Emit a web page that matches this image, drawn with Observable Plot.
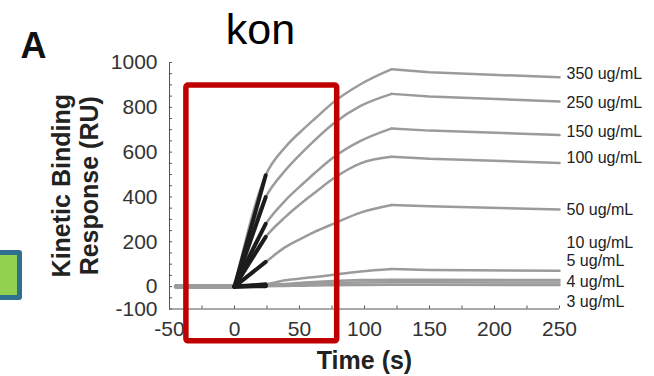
<!DOCTYPE html>
<html>
<head>
<meta charset="utf-8">
<script src="https://cdn.jsdelivr.net/npm/d3@7"></script>
<script src="https://cdn.jsdelivr.net/npm/@observablehq/plot@0.6"></script>
<style>
  html, body { margin: 0; padding: 0; background: #fff; overflow: hidden; }
  #wrap { position: relative; width: 654px; height: 376px; }
  #flag { position: absolute; left: -6px; top: 250px; width: 27.7px; height: 50px; box-sizing: border-box;
          border: 5px solid #2f6f8f; border-radius: 3px; background: #92d050; }
</style>
</head>
<body>
<div id="wrap"><div id="flag"></div></div>
<script>
// ---- data ----
const series = ["350 ug/mL","250 ug/mL","150 ug/mL","100 ug/mL","50 ug/mL","10 ug/mL","5 ug/mL","4 ug/mL","3 ug/mL"];

const baselineTime = [-45, 0];
const baselineValue = [0, 0];

const assocTime = [0, 24, 39, 54, 62, 76, 97, 121];
const assoc350 = [0, 497, 622, 708, 750, 822, 903, 970];
const assoc250 = [0, 399, 518, 610, 655, 727, 806, 860];
const assoc150 = [0, 280, 384, 466, 508, 576, 650, 706];
const assoc100 = [0, 222, 310, 384, 420, 482, 550, 579];
const assoc50  = [0, 110, 176, 222, 245, 280, 330, 364];
const assoc10  = [0, 10, 28, 38, 43, 53, 67, 78];
const assoc5   = [0, 6, 12, 18, 21, 25, 29, 31];
const assoc4   = [0, 4, 8, 12, 14, 16, 18, 19];
const assoc3   = [0, 2, 3, 4, 5, 6, 7, 8];

const dissocTime = [121, 150, 250];
const dissoc350 = [970, 956, 934];
const dissoc250 = [860, 848, 826];
const dissoc150 = [706, 696, 677];
const dissoc100 = [579, 570, 552];
const dissoc50  = [364, 358, 344];
const dissoc10  = [78, 74, 71];
const dissoc5   = [31, 30, 29];
const dissoc4   = [19, 19, 18];
const dissoc3   = [8, 8, 7];

const fitTime = [0, 24];
const fitEnd = [497, 399, 280, 222, 110, 10, 6, 4, 2];

const labelRU = [951, 822, 692, 576, 344, 197, 113, 23, -66];

const yTickLabels = [-100, 0, 200, 400, 600, 800, 1000];
const xTickLabels = [-50, 0, 50, 100, 150, 200, 250];
const highlight = [{x1: -37, x2: 79, y1: -244, y2: 897}];

// ---- build tables ----
const assocAll = [assoc350, assoc250, assoc150, assoc100, assoc50, assoc10, assoc5, assoc4, assoc3];
const dissocAll = [dissoc350, dissoc250, dissoc150, dissoc100, dissoc50, dissoc10, dissoc5, dissoc4, dissoc3];

const baseRows = [], assocRows = [], dissocRows = [], fitRows = [];
series.forEach((s, i) => {
  baselineTime.forEach((t, j) => baseRows.push({s, t, v: baselineValue[j]}));
  assocTime.forEach((t, j) => assocRows.push({s, t, v: assocAll[i][j]}));
  dissocTime.forEach((t, j) => dissocRows.push({s, t, v: dissocAll[i][j]}));
  fitTime.forEach((t, j) => fitRows.push({s, t, v: j === 0 ? 0 : fitEnd[i]}));
});
const labelRows = series.map((s, i) => ({s, v: labelRU[i]}));

const gray = "#9b9b9b";
const font = "'Liberation Sans', Arial, sans-serif";
const chart = Plot.plot({
  width: 654,
  height: 376,
  marginLeft: 169,
  marginRight: 95,
  marginTop: 62,
  marginBottom: 67.5,
  style: {fontFamily: font, background: "transparent", overflow: "visible"},
  x: {domain: [-50, 250]},
  y: {domain: [-100, 1000]},
  marks: [
    Plot.ruleX([-50], {stroke: "#555", strokeWidth: 1}),
    Plot.ruleY([-100], {stroke: "#555", strokeWidth: 1}),
    Plot.axisY({ticks: d3.range(-100, 1001, 50), tickSize: -3, tickFormat: () => "", stroke: "#555"}),
    Plot.axisX({ticks: d3.range(-50, 251, 25), tickSize: -3, tickFormat: () => "", stroke: "#555"}),
    Plot.axisY({ticks: yTickLabels, tickSize: 0, tickPadding: 12, fontSize: 21, fill: "#333", tickFormat: d => String(d)}),
    Plot.axisX({ticks: xTickLabels, tickSize: 0, tickPadding: 12, fontSize: 21, fill: "#333", tickFormat: d => String(d)}),
    Plot.line(baseRows, {x: "t", y: "v", z: "s", stroke: gray, strokeWidth: 4}),
    Plot.line(assocRows, {x: "t", y: "v", z: "s", stroke: gray, strokeWidth: 2.5, curve: "monotone-x"}),
    Plot.line(dissocRows, {x: "t", y: "v", z: "s", stroke: gray, strokeWidth: 2.5}),
    Plot.line(fitRows, {x: "t", y: "v", z: "s", stroke: "#1c1c1c", strokeWidth: 4}),
    Plot.text(labelRows, {x: 250, y: "v", text: "s", dx: 7, textAnchor: "start", fontSize: 16, fill: "#222"}),
    Plot.text(["Kinetic Binding\nResponse (RU)"], {text: d => d, frameAnchor: "left", textAnchor: "middle", lineAnchor: "middle", rotate: -90, dx: -94, fontSize: 25, fontWeight: "bold", lineHeight: 1.12, fill: "#222"}),
    Plot.text(["Time (s)"], {text: d => d, frameAnchor: "bottom", textAnchor: "middle", lineAnchor: "middle", dy: 51.5, fontSize: 25, fontWeight: "bold", fill: "#222"}),
    Plot.text(["kon"], {text: d => d, frameAnchor: "top-left", textAnchor: "middle", lineAnchor: "middle", dx: 91, dy: -32.5, fontSize: 43, fill: "#000"}),
    Plot.text(["A"], {text: d => d, frameAnchor: "top-left", textAnchor: "start", lineAnchor: "middle", dx: -149, dy: -16.5, fontSize: 36, fontWeight: "bold", fill: "#111"}),
    Plot.rect(highlight, {x1: "x1", x2: "x2", y1: "y1", y2: "y2", fill: "none", stroke: "#c00000", strokeWidth: 5.5, rx: 2})
  ]
});
document.getElementById("wrap").prepend(chart);
</script>
</body>
</html>
